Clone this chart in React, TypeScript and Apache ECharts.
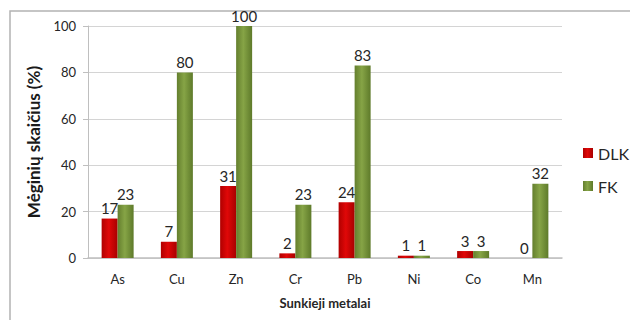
import React, { useEffect, useRef } from "react";
import * as echarts from "echarts";

const categories = ["As", "Cu", "Zn", "Cr", "Pb", "Ni", "Co", "Mn"];
const dlkValues = [17, 7, 31, 2, 24, 1, 3, 0];
const fkValues = [23, 80, 100, 23, 83, 1, 3, 32];
const yTicks = { min: 0, max: 100, interval: 20 };

const FONT = "Lato, 'Noto Sans', sans-serif";

const redFill = new echarts.graphic.LinearGradient(0, 0, 1, 0, [
  { offset: 0, color: "#b00000" },
  { offset: 0.45, color: "#e00808" },
  { offset: 1, color: "#a80000" },
]);
const greenFill = new echarts.graphic.LinearGradient(0, 0, 1, 0, [
  { offset: 0, color: "#647f2e" },
  { offset: 0.45, color: "#86a446" },
  { offset: 1, color: "#5e7a2a" },
]);

export default function App() {
  const ref = useRef<HTMLDivElement>(null);
  useEffect(() => {
    if (!ref.current) return;
    const chart = echarts.init(ref.current, null, { renderer: "svg" });
    const labelStyle = {
      show: true,
      position: "top" as const,
      distance: 3,
      fontFamily: FONT,
      fontSize: 15,
      color: "#262626",
    };
    chart.setOption({
      animation: false,
      backgroundColor: "#ffffff",
      textStyle: { fontFamily: FONT },
      graphic: [
        {
          type: "rect",
          shape: { x: 10, y: 11, width: 640, height: 330 },
          style: { fill: "none", stroke: "#b3b3b3", lineWidth: 1.5 },
          silent: true,
        },
      ],
      grid: { left: 88, right: 68, top: 26, bottom: 62 },
      legend: {
        orient: "vertical",
        left: 583,
        top: 145,
        padding: 0,
        itemWidth: 10,
        itemHeight: 10,
        itemGap: 17,
        icon: "rect",
        textStyle: { fontFamily: FONT, fontSize: 16, color: "#262626", width: 40, overflow: "none" },
        data: ["DLK", "FK"],
      },
      xAxis: {
        type: "category",
        data: categories,
        name: "Sunkieji metalai",
        nameLocation: "middle",
        nameGap: 38,
        nameTextStyle: { fontFamily: FONT, fontSize: 13, fontWeight: "bold", color: "#262626" },
        axisLine: { lineStyle: { color: "#bfbfbf", width: 1.5 } },
        axisTick: { show: false },
        axisLabel: { margin: 14, fontFamily: FONT, fontSize: 13, color: "#262626" },
      },
      yAxis: {
        type: "value",
        min: yTicks.min,
        max: yTicks.max,
        interval: yTicks.interval,
        name: "Mėginių skaičius (%)",
        nameLocation: "middle",
        nameGap: 44,
        nameTextStyle: { fontFamily: FONT, fontSize: 17, fontWeight: "bold", color: "#1a1a1a" },
        axisLine: { show: true, lineStyle: { color: "#bfbfbf" } },
        axisTick: { show: true, length: 5, lineStyle: { color: "#bfbfbf" } },
        axisLabel: { margin: 12, fontFamily: FONT, fontSize: 13, color: "#262626" },
        splitLine: { lineStyle: { color: "#d4d4d4" } },
      },
      series: [
        {
          name: "DLK",
          type: "bar",
          data: dlkValues,
          barWidth: 16,
          barGap: "0%",
          itemStyle: { color: redFill },
          label: labelStyle,
        },
        {
          name: "FK",
          type: "bar",
          data: fkValues,
          barWidth: 16,
          itemStyle: { color: greenFill },
          label: labelStyle,
        },
      ],
    });
    return () => chart.dispose();
  }, []);
  return (
    <div
      ref={ref}
      style={{ position: "fixed", left: 0, top: 0, width: 630, height: 320 }}
    />
  );
}
